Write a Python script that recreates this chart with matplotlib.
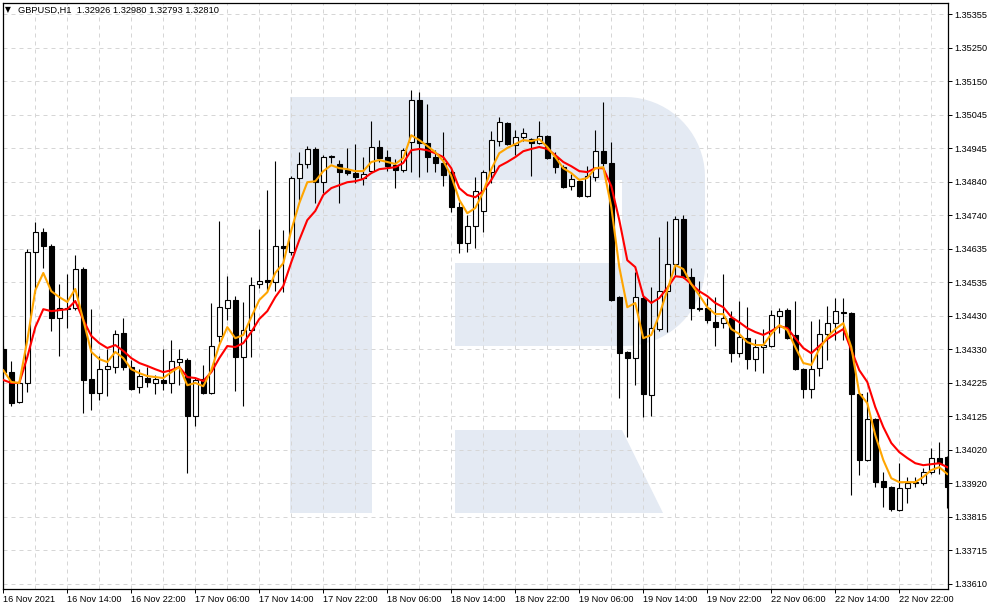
import numpy as np
import matplotlib

matplotlib.use("Agg")

import matplotlib.pyplot as plt
from matplotlib.patches import Polygon

plt.rcParams["font.family"] = ["Liberation Sans", "DejaVu Sans"]

# --- datos GBPUSD H1 ---
time_labels = [
    "16 Nov 2021", "16 Nov 14:00", "16 Nov 22:00", "17 Nov 06:00", "17 Nov 14:00",
    "17 Nov 22:00", "18 Nov 06:00", "18 Nov 14:00", "18 Nov 22:00", "19 Nov 06:00",
    "19 Nov 14:00", "19 Nov 22:00", "22 Nov 06:00", "22 Nov 14:00", "22 Nov 22:00",
]
price_labels = [
    "1.33610", "1.33715", "1.33815", "1.33920", "1.34020", "1.34125", "1.34225",
    "1.34330", "1.34430", "1.34535", "1.34635", "1.34740", "1.34840", "1.34945",
    "1.35045", "1.35150", "1.35250", "1.35355",
]

opens = [
    1.34330, 1.34259, 1.34167, 1.34226, 1.34627, 1.34688, 1.34645, 1.34425, 1.34452, 1.34455,
    1.34575, 1.34238, 1.34195, 1.34268, 1.34275, 1.34379, 1.34275, 1.34213, 1.34241, 1.34226,
    1.34235, 1.34226, 1.34290, 1.34296, 1.34124, 1.34238, 1.34195, 1.34370, 1.34455, 1.34480,
    1.34305, 1.34388, 1.34529, 1.34541, 1.34535, 1.34645, 1.34627, 1.34854, 1.34897, 1.34943,
    1.34841, 1.34918, 1.34897, 1.34878, 1.34869, 1.34854, 1.34875, 1.34949, 1.34918, 1.34893,
    1.34878, 1.34964, 1.35093, 1.34961, 1.34918, 1.34900, 1.34872, 1.34765, 1.34654, 1.34707,
    1.34753, 1.34872, 1.34967, 1.35022, 1.34955, 1.34979, 1.34973, 1.34961, 1.34982, 1.34918,
    1.34887, 1.34829, 1.34844, 1.34799, 1.34857, 1.34936, 1.34900, 1.34489, 1.34321, 1.34302,
    1.34486, 1.34189, 1.34391, 1.34507, 1.34590, 1.34728, 1.34550, 1.34455, 1.34455, 1.34412,
    1.34409, 1.34425, 1.34317, 1.34363, 1.34299, 1.34336, 1.34339, 1.34431, 1.34449, 1.34373,
    1.34268, 1.34207, 1.34271, 1.34376, 1.34409, 1.34443, 1.34440, 1.34192, 1.33990, 1.34115,
    1.33925, 1.33907, 1.33836, 1.33904, 1.33919, 1.33919, 1.33953, 1.33996, 1.33999,
]
highs = [
    1.34339, 1.34293, 1.34226, 1.34636, 1.34719, 1.34700, 1.34651, 1.34529, 1.34560, 1.34618,
    1.34581, 1.34452, 1.34308, 1.34330, 1.34388, 1.34425, 1.34296, 1.34268, 1.34275, 1.34250,
    1.34330, 1.34357, 1.34330, 1.34302, 1.34241, 1.34281, 1.34471, 1.34722, 1.34553, 1.34492,
    1.34474, 1.34550, 1.34697, 1.34817, 1.34906, 1.34694, 1.34860, 1.34933, 1.34952, 1.34949,
    1.34924, 1.34924, 1.34909, 1.34946, 1.34958, 1.34918, 1.35028, 1.34970, 1.34939, 1.34912,
    1.34946, 1.35123, 1.35117, 1.35080, 1.34939, 1.34995, 1.34881, 1.34780, 1.34740, 1.34857,
    1.34878, 1.34998, 1.35041, 1.35025, 1.35001, 1.35007, 1.34976, 1.35028, 1.34985, 1.34933,
    1.34893, 1.34866, 1.34848, 1.34890, 1.35001, 1.35087, 1.34964, 1.34492, 1.34324, 1.34566,
    1.34492, 1.34520, 1.34673, 1.34722, 1.34737, 1.34740, 1.34578, 1.34538, 1.34486, 1.34489,
    1.34560, 1.34446, 1.34477, 1.34458, 1.34360, 1.34391, 1.34449, 1.34455, 1.34455, 1.34477,
    1.34271, 1.34416, 1.34422, 1.34461, 1.34486, 1.34486, 1.34443, 1.34195, 1.34198, 1.34118,
    1.33953, 1.33910, 1.33980, 1.33938, 1.33938, 1.33965, 1.34026, 1.34045, 1.34002,
]
lows = [
    1.34247, 1.34155, 1.34164, 1.34198, 1.34501, 1.34578, 1.34385, 1.34308, 1.34394, 1.34449,
    1.34134, 1.34143, 1.34173, 1.34186, 1.34256, 1.34265, 1.34204, 1.34195, 1.34213, 1.34192,
    1.34204, 1.34195, 1.34219, 1.33950, 1.34094, 1.34192, 1.34192, 1.34351, 1.34419, 1.34201,
    1.34155, 1.34305, 1.34517, 1.34507, 1.34507, 1.34504, 1.34618, 1.34787, 1.34884, 1.34777,
    1.34808, 1.34900, 1.34777, 1.34863, 1.34838, 1.34832, 1.34872, 1.34903, 1.34875, 1.34823,
    1.34872, 1.34872, 1.34857, 1.34872, 1.34872, 1.34829, 1.34749, 1.34624, 1.34627, 1.34639,
    1.34688, 1.34838, 1.34952, 1.34955, 1.34924, 1.34967, 1.34860, 1.34958, 1.34912, 1.34869,
    1.34823, 1.34817, 1.34795, 1.34795, 1.34844, 1.34890, 1.34477, 1.34180, 1.34060, 1.34219,
    1.34121, 1.34124, 1.34385, 1.34382, 1.34556, 1.34547, 1.34419, 1.34446, 1.34409, 1.34339,
    1.34394, 1.34290, 1.34305, 1.34268, 1.34262, 1.34256, 1.34336, 1.34379, 1.34360, 1.34265,
    1.34180, 1.34180, 1.34247, 1.34296, 1.34357, 1.34357, 1.33882, 1.33944, 1.33987, 1.33907,
    1.33846, 1.33833, 1.33833, 1.33858, 1.33907, 1.33913, 1.33947, 1.33947, 1.33843,
]
closes = [
    1.34259, 1.34164, 1.34226, 1.34627, 1.34688, 1.34645, 1.34425, 1.34455, 1.34455, 1.34575,
    1.34235, 1.34195, 1.34268, 1.34278, 1.34376, 1.34275, 1.34207, 1.34247, 1.34229, 1.34238,
    1.34226, 1.34293, 1.34299, 1.34124, 1.34235, 1.34195, 1.34339, 1.34458, 1.34480, 1.34305,
    1.34388, 1.34526, 1.34538, 1.34535, 1.34645, 1.34639, 1.34854, 1.34897, 1.34943, 1.34841,
    1.34918, 1.34921, 1.34872, 1.34869, 1.34857, 1.34866, 1.34949, 1.34915, 1.34890, 1.34878,
    1.34939, 1.35093, 1.34961, 1.34918, 1.34900, 1.34863, 1.34765, 1.34654, 1.34707, 1.34814,
    1.34872, 1.34970, 1.35025, 1.34958, 1.34979, 1.34992, 1.34961, 1.34982, 1.34915, 1.34887,
    1.34826, 1.34851, 1.34799, 1.34860, 1.34936, 1.34900, 1.34480, 1.34317, 1.34302, 1.34489,
    1.34192, 1.34394, 1.34507, 1.34590, 1.34728, 1.34550, 1.34455, 1.34452, 1.34419, 1.34397,
    1.34425, 1.34317, 1.34366, 1.34299, 1.34336, 1.34342, 1.34434, 1.34446, 1.34363, 1.34268,
    1.34207, 1.34268, 1.34376, 1.34409, 1.34446, 1.34440, 1.34192, 1.33990, 1.34115, 1.33922,
    1.33907, 1.33839, 1.33904, 1.33919, 1.33922, 1.33953, 1.33996, 1.33980, 1.33907,
]
ma_slow = [
    1.34235, 1.34226, 1.34226, 1.34305, 1.34397, 1.34452, 1.34446, 1.34449, 1.34452, 1.34477,
    1.34419, 1.34370, 1.34348, 1.34333, 1.34342, 1.34324, 1.34302, 1.34287, 1.34278, 1.34268,
    1.34259, 1.34265, 1.34275, 1.34244, 1.34241, 1.34232, 1.34259, 1.34302, 1.34339, 1.34336,
    1.34348, 1.34382, 1.34422, 1.34446, 1.34489, 1.34523, 1.34596, 1.34664, 1.34725, 1.34753,
    1.34802, 1.34823, 1.34832, 1.34841, 1.34844, 1.34851, 1.34869, 1.34881, 1.34884, 1.34887,
    1.34900, 1.34939, 1.34943, 1.34939, 1.34930, 1.34918, 1.34884, 1.34823, 1.34802, 1.34795,
    1.34814, 1.34848, 1.34890, 1.34903, 1.34918, 1.34936, 1.34943, 1.34949, 1.34943, 1.34924,
    1.34903, 1.34890, 1.34875, 1.34872, 1.34884, 1.34884, 1.34829, 1.34725, 1.34602, 1.34581,
    1.34492, 1.34471, 1.34486, 1.34517, 1.34553, 1.34550, 1.34529, 1.34507, 1.34492, 1.34471,
    1.34458, 1.34428, 1.34412, 1.34394, 1.34382, 1.34373, 1.34385, 1.34400, 1.34394, 1.34363,
    1.34333, 1.34317, 1.34339, 1.34360, 1.34376, 1.34391, 1.34327, 1.34265, 1.34229, 1.34152,
    1.34091, 1.34042, 1.34014, 1.33996, 1.33980, 1.33974, 1.33977, 1.33980, 1.33968,
]
ma_fast = [
    1.34265, 1.34229, 1.34226, 1.34357, 1.34510, 1.34563, 1.34507, 1.34489, 1.34474, 1.34514,
    1.34419, 1.34321, 1.34299, 1.34290, 1.34321, 1.34302, 1.34268, 1.34256, 1.34247, 1.34244,
    1.34241, 1.34259, 1.34275, 1.34219, 1.34226, 1.34216, 1.34265, 1.34342, 1.34397, 1.34363,
    1.34373, 1.34428, 1.34480, 1.34504, 1.34563, 1.34593, 1.34694, 1.34777, 1.34841, 1.34844,
    1.34875, 1.34893, 1.34884, 1.34881, 1.34875, 1.34875, 1.34903, 1.34909, 1.34903, 1.34897,
    1.34915, 1.34985, 1.34970, 1.34952, 1.34933, 1.34906, 1.34860, 1.34787, 1.34746, 1.34762,
    1.34811, 1.34881, 1.34930, 1.34946, 1.34958, 1.34970, 1.34967, 1.34973, 1.34949, 1.34918,
    1.34884, 1.34869, 1.34848, 1.34854, 1.34884, 1.34887, 1.34765, 1.34581, 1.34458, 1.34471,
    1.34363, 1.34373, 1.34434, 1.34510, 1.34587, 1.34575, 1.34529, 1.34495, 1.34458, 1.34437,
    1.34437, 1.34391, 1.34376, 1.34351, 1.34342, 1.34342, 1.34376, 1.34403, 1.34388, 1.34336,
    1.34287, 1.34281, 1.34330, 1.34366, 1.34391, 1.34409, 1.34336, 1.34195, 1.34164, 1.34066,
    1.33990, 1.33934, 1.33922, 1.33922, 1.33922, 1.33938, 1.33959, 1.33968, 1.33947,
]

W, H = 994, 610
WM_COLOR = "#e4eaf3"
GRID_COLOR = "#d6d6d6"


def fig_xy(x, y):
    # pixeles (origen arriba-izquierda) -> fraccion de figura
    return (x / W, 1 - y / H)


def add_watermark(fig, ax):
    t = np.linspace(np.pi / 2, 0, 20)
    top_arc = [(625 + 80 * np.cos(a), 177 - 80 * np.sin(a)) for a in t]
    t = np.linspace(0, -np.pi / 2, 20)
    bot_arc = [(625 + 80 * np.cos(a), 266 - 80 * np.sin(a)) for a in t]
    body = ([(290, 97)] + top_arc + bot_arc +
            [(455, 346), (455, 263), (622, 263), (622, 180), (372, 180), (372, 513), (290, 513)])
    leg = [(455, 430), (622, 430), (663, 513), (455, 513)]
    for pts in (body, leg):
        ax.add_patch(Polygon([fig_xy(*p) for p in pts], closed=True, transform=fig.transFigure,
                             facecolor=WM_COLOR, edgecolor="none", zorder=0.1))


fig = plt.figure(figsize=(W / 100, H / 100), dpi=100)
ax = fig.add_axes([2.5 / W, (H - 589) / H, 945.5 / W, 586.5 / H])

x = np.arange(len(opens))
o = np.array(opens)
c = np.array(closes)
up = c >= o

ax.vlines(x, lows, highs, color="black", lw=0.8, zorder=2)
ax.bar(x, np.maximum(np.abs(c - o), 0.000008), bottom=np.minimum(o, c), width=0.6,
       color=np.where(up, "white", "black"), edgecolor="black", linewidth=0.8, zorder=3)
ax.plot(x, ma_slow, color="#ff0000", lw=1.5, zorder=4)
ax.plot(x, ma_fast, color="#ffa500", lw=1.5, zorder=5)

add_watermark(fig, ax)

ax.set_xlim(-0.1, 118.09)
ax.set_ylim(1.335946, 1.353917)

ax.set_xticks(np.arange(0, 113, 8))
ax.set_xticklabels(time_labels, ha="left")
ax.set_xticks(np.arange(0, 119, 4), minor=True)
ax.set_yticks(np.linspace(1.33610, 1.35355, len(price_labels)))
ax.set_yticklabels(price_labels)
ax.yaxis.tick_right()

ax.tick_params(axis="x", which="major", length=3, width=0.7, pad=1.5, labelsize=6.6)
ax.tick_params(axis="x", which="minor", length=0)
ax.tick_params(axis="y", length=3, width=0.7, pad=1.5, labelsize=6.6)

ax.set_axisbelow(True)
ax.grid(True, axis="x", which="both", color=GRID_COLOR, lw=0.72, linestyle=(0, (4, 4)))
ax.grid(True, axis="y", which="major", color=GRID_COLOR, lw=0.72, linestyle=(0, (4, 4)))
for sp in ax.spines.values():
    sp.set_color("black")
    sp.set_linewidth(0.9)

fig.text(*fig_xy(5, 10), "\u25bc", fontsize=5.5, va="center", ha="left", family="DejaVu Sans")
fig.text(*fig_xy(17.5, 10.5), "GBPUSD,H1  1.32926 1.32980 1.32793 1.32810",
         fontsize=6.7, va="center", ha="left")

fig.savefig("out.png", dpi=100)
plt.close(fig)
